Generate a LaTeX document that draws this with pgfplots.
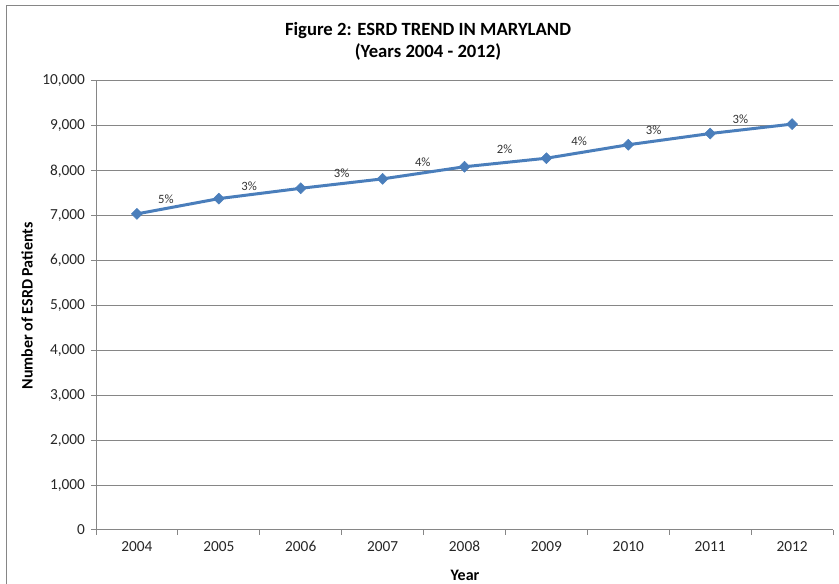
\documentclass[border=0pt]{standalone}
\usepackage{fontspec}
\setmainfont{Carlito}
\usepackage{pgfplots}
\pgfplotsset{compat=1.18}
\definecolor{serie}{HTML}{4A7EBB}
\definecolor{gridc}{HTML}{868686}
\begin{document}
\begin{tikzpicture}
\path[use as bounding box] (0pt,0pt) rectangle (629.25pt,438pt);
\draw[gridc, line width=0.75pt] (4.5pt,-15pt) -- (4.5pt,433.5pt) -- (660pt,433.5pt);
\node[font=\bfseries\fontsize{14}{17}\selectfont, align=center] at (321pt,407pt) {Figure 2: ESRD TREND IN MARYLAND\\[0pt](Years 2004 - 2012)};
\node[font=\bfseries\fontsize{12}{14}\selectfont, rotate=90] at (20.25pt,208.5pt) {Number of ESRD Patients};
\node[font=\bfseries\fontsize{12}{14}\selectfont] at (348.75pt,6.75pt) {Year};
\begin{axis}[at={(72pt,40.5pt)}, anchor=south west, scale only axis,
  width=552.75pt, height=336.75pt,
  xmin=-0.5, xmax=8.5, ymin=0, ymax=10000,
  xtick={-0.5,0.5,...,8.5}, x tick label as interval,
  xticklabels={2004,2005,2006,2007,2008,2009,2010,2011,2012},
  ytick={0,1000,...,10000}, scaled y ticks=false,
  axis lines*=left,
  axis line style={gridc, line width=0.75pt},
  ymajorgrids, major grid style={gridc, line width=0.75pt},
  tick align=outside, major tick length=3.75pt,
  tick style={gridc, line width=0.75pt},
  xtick pos=left, ytick pos=left,
  ticklabel style={font=\fontsize{11.5}{13}\selectfont, text=black!85},
  xticklabel style={text height=8pt, text depth=0pt, yshift=-1pt},
  yticklabel style={xshift=-1pt},
  /pgf/number format/.cd, 1000 sep={,}, assume math mode=true,
]
\addplot[color=serie, line width=2.25pt, mark=square*, mark size=2.9pt,
  mark options={rotate=45, solid, line width=0.4pt, fill=serie}]
  coordinates {(0,7040)(1,7380)(2,7610)(3,7820)(4,8090)(5,8280)(6,8580)(7,8830)(8,9040)};
\addplot[draw=none, nodes near coords, point meta=explicit symbolic,
  nodes near coords style={font=\fontsize{9.5}{11}\selectfont, anchor=center, text=black!80}]
  coordinates {(0.354,7372)[5\%] (1.37,7661)[3\%] (2.50,7951)[3\%] (3.49,8196)[4\%]
               (4.49,8486)[2\%] (5.40,8664)[4\%] (6.31,8909)[3\%] (7.37,9154)[3\%]};
\end{axis}
\end{tikzpicture}
\end{document}
